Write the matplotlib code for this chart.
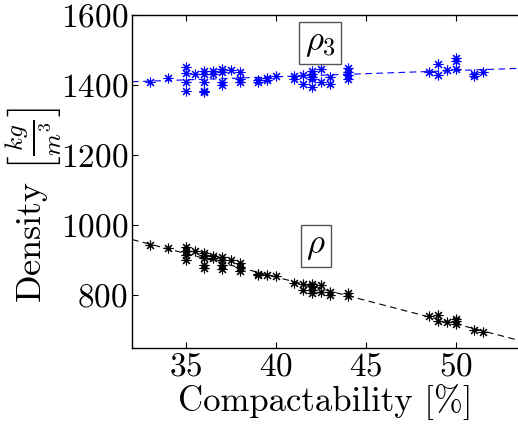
import numpy as np
import matplotlib
matplotlib.use("Agg")
import matplotlib.pyplot as plt

plt.rcParams['font.family'] = 'serif'
plt.rcParams['font.serif'] = ['cmr10']
plt.rcParams['mathtext.fontset'] = 'cm'
plt.rcParams['axes.formatter.use_mathtext'] = True

# rho_3 (blue) data
x_rho3 = [33, 34, 35, 35, 35, 35, 35.5, 36, 36, 36, 36, 36, 36.5, 36.5,
          37, 37, 37, 37, 37.5, 38, 38, 38, 39, 39, 39.5, 39.5, 40, 41, 41,
          41.5, 41.5, 42, 42, 42, 42, 42, 42.5, 42.5, 43, 43, 44, 44, 44, 44,
          48.5, 49, 49, 49.5, 50, 50, 50, 51, 51, 51.5]
y_rho3 = [1408, 1419, 1451, 1435, 1409, 1382, 1433, 1440, 1431, 1408, 1384, 1379, 1441, 1431,
          1446, 1436, 1409, 1400, 1443, 1438, 1416, 1408, 1414, 1410, 1419, 1414, 1426, 1426, 1416,
          1429, 1402, 1441, 1431, 1424, 1416, 1395, 1445, 1408, 1424, 1402, 1448, 1438, 1429, 1416,
          1438, 1460, 1430, 1443, 1476, 1469, 1446, 1433, 1426, 1438]

# rho (black) data
x_rho = [33, 34, 35, 35, 35, 35, 35.5, 36, 36, 36, 36, 36, 36.5, 36.5,
         37, 37, 37, 37, 37.5, 38, 38, 38, 39, 39, 39.5, 40, 41,
         41.5, 41.5, 42, 42, 42, 42, 42.5, 42.5, 43, 43, 44, 44,
         48.5, 49, 49, 49.5, 50, 50, 50, 51, 51.5]
y_rho = [943, 935, 938, 927, 914, 900, 926, 921, 914, 908, 888, 879, 912, 908,
         909, 900, 888, 876, 902, 892, 881, 871, 862, 857, 857, 854, 836,
         833, 816, 833, 826, 816, 807, 831, 809, 809, 802, 807, 797,
         740, 743, 727, 724, 733, 727, 719, 700, 695]

xticks = [35, 40, 45, 50]
yticks = [800, 1000, 1200, 1400, 1600]
xlim = (32, 53.45)
ylim = (650, 1600)

fig = plt.figure(figsize=(5.18, 4.26), dpi=100)
ax = fig.add_axes([132/518, 78/426, 1 - 132/518, 333/426])

star = (8, 2, 0)
ax.plot(x_rho3, y_rho3, linestyle='none', marker=star, color='blue',
        markersize=7, markeredgewidth=0.8)
ax.plot(x_rho, y_rho, linestyle='none', marker=star, color='black',
        markersize=7, markeredgewidth=0.8)

xf = np.array(xlim)
p3 = np.polyfit(x_rho3, y_rho3, 1)
p1 = np.polyfit(x_rho, y_rho, 1)
ax.plot(xf, np.polyval(p3, xf), '--', color='blue', linewidth=0.8, dashes=(6, 4))
ax.plot(xf, np.polyval(p1, xf), '--', color='black', linewidth=0.8, dashes=(6, 4))

ax.set_xlim(*xlim)
ax.set_ylim(*ylim)
ax.set_xticks(xticks)
ax.set_yticks(yticks)
ax.tick_params(direction='in', top=True, right=False, labelsize=24, length=4, width=0.8, pad=3)
ax.spines['right'].set_visible(False)
for s in ['left', 'top', 'bottom']:
    ax.spines[s].set_linewidth(1.0)

box = dict(boxstyle='square,pad=0.15', facecolor='white', edgecolor='#555555', linewidth=1.0)
ax.text(42.45, 1520, r'$\rho_3$', fontsize=25, ha='center', va='center', bbox=box)
ax.text(42.2, 940, r'$\rho$', fontsize=25, ha='center', va='center', bbox=box)

ax.set_xlabel(r'Compactability [%]', fontsize=25, labelpad=2)
ax.set_ylabel(r'Density $\left[\frac{kg}{m^3}\right]$', fontsize=26, va='center')
ax.yaxis.set_label_coords(-0.255, 0.43)

fig.savefig('out.png', dpi=100)
